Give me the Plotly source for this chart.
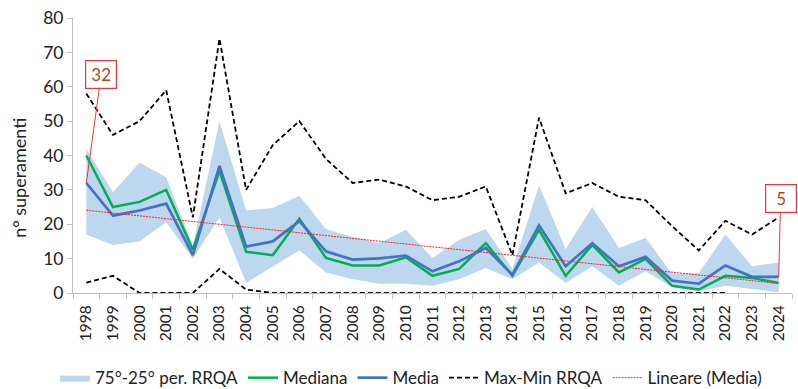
import numpy as np
import plotly.graph_objects as go

years = [str(y) for y in range(1998, 2025)]

# 75th / 25th percentile across RRQA stations
p75 = [42, 29.3, 38, 33.7, 13.6, 50, 24, 24.7, 28.3, 18.6, 16.3, 14.5, 18.4, 10.2,
       15.5, 18.6, 7, 31.3, 12.8, 25, 13.1, 16, 5.6, 5.8, 17, 7.8, 8.9]
p25 = [17, 14, 15, 20.6, 10, 22, 3, 7.8, 12.4, 6, 4, 2.7, 2.7, 2.1,
       4, 7.3, 4, 8.9, 2.9, 7.8, 2.1, 6.3, 1.7, 0.5, 2.1, 1.2, 0.2]

mediana = [40, 25, 26.5, 30, 12.6, 35.5, 12, 11, 21.6, 10.2, 8, 8, 10.4, 5,
           7, 14.5, 5, 18.4, 5, 14, 6, 9.9, 2.1, 1, 5, 4.4, 2.9]
media = [32, 22.5, 24, 26, 11, 37, 13.5, 15, 20.9, 12.1, 9.7, 10.1, 10.9, 6.3,
         9.2, 13.1, 5.3, 19.7, 7.8, 14.5, 7.8, 10.5, 3.6, 2.7, 8, 4.7, 4.7]

vmax = [58, 46, 50, 59, 22, 74, 30, 43, 50, 39, 32, 33, 31, 27,
        28, 31, 11, 51, 29, 32, 28, 27, 19.4, 12.4, 21, 17, 22]
vmin = [3, 5, 0, 0, 0, 7, 1, 0, 0, 0, 0, 0, 0, 0,
        0, 0, 0, 0, 0, 0, 0, 0, 0, 0, 0, None, None]

# least-squares trend of the mean
idx = np.arange(len(years))
slope, intercept = np.polyfit(idx, np.array(media), 1)
trend = list(slope * idx + intercept)

FONT = "Lato, 'Open Sans', sans-serif"
BAND = "#BDD7EE"
GREEN = "#00B050"
BLUE = "#4472C4"
RED_TXT = "#B5451B"
RED_BOX = "#E0393E"
DASH = "5px,3px"

fig = go.Figure()

fig.add_trace(go.Scatter(x=years, y=p25, mode="lines", line=dict(width=0, color=BAND),
                         showlegend=False, hoverinfo="skip"))
fig.add_trace(go.Scatter(x=years, y=p75, mode="lines", line=dict(width=0, color=BAND),
                         fill="tonexty", fillcolor=BAND, name="75°-25° per. RRQA"))
fig.add_trace(go.Scatter(x=years, y=mediana, mode="lines",
                         line=dict(color=GREEN, width=2.5), name="Mediana"))
fig.add_trace(go.Scatter(x=years, y=media, mode="lines",
                         line=dict(color=BLUE, width=2.7), name="Media"))
fig.add_trace(go.Scatter(x=years, y=vmax, mode="lines",
                         line=dict(color="black", width=1.8, dash=DASH), name="Max-Min RRQA"))
fig.add_trace(go.Scatter(x=years, y=vmin, mode="lines",
                         line=dict(color="black", width=1.8, dash=DASH), showlegend=False))
fig.add_trace(go.Scatter(x=years, y=trend, mode="lines",
                         line=dict(color="#FF2020", width=1, dash="2px,1px"),
                         name="Lineare (Media)"))

# value call-outs for first and last mean (category axis: positions by index)
for i, ax, ay in [(0, 15, -109), (len(years) - 1, 2, -78)]:
    fig.add_annotation(x=i, y=media[i], xref="x", yref="y", text=f"{round(media[i])}",
                       showarrow=True, arrowhead=0, arrowwidth=1, arrowcolor=RED_BOX,
                       ax=ax, ay=ay, bordercolor=RED_BOX, borderwidth=1.2, borderpad=3,
                       bgcolor="white", font=dict(family=FONT, size=17, color=RED_TXT),
                       width=24, height=21)

# y-axis title
fig.add_annotation(text="n° superamenti", xref="paper", yref="paper", x=-0.076, y=0.42,
                   xanchor="center", yanchor="middle", textangle=-90, showarrow=False,
                   font=dict(family=FONT, size=18, color="#222"))

fig.update_layout(
    width=798, height=389,
    margin=dict(l=73, r=6, t=18, b=96),
    plot_bgcolor="white", paper_bgcolor="white",
    font=dict(family=FONT, size=16, color="#222"),
    showlegend=True,
    legend=dict(orientation="h", x=0.47, xanchor="center", yref="container", y=0.028,
                yanchor="middle", font=dict(size=17), traceorder="normal",
                tracegroupgap=0),
    xaxis=dict(type="category", range=[-0.5, 26.5], showline=True, linecolor="#BFBFBF",
               linewidth=1, ticks="outside", tickson="boundaries", ticklen=5,
               tickcolor="#BFBFBF", tickangle=-90, tickfont=dict(size=15.5), showgrid=False,
               ticklabelstandoff=5, automargin=False),
    yaxis=dict(range=[0, 80], dtick=10, showline=True, linecolor="#BFBFBF", linewidth=1,
               ticks="outside", ticklen=5, tickcolor="#BFBFBF", showgrid=False, zeroline=False,
               tickfont=dict(size=17.5), automargin=False),
)

fig.write_html("out.html")
